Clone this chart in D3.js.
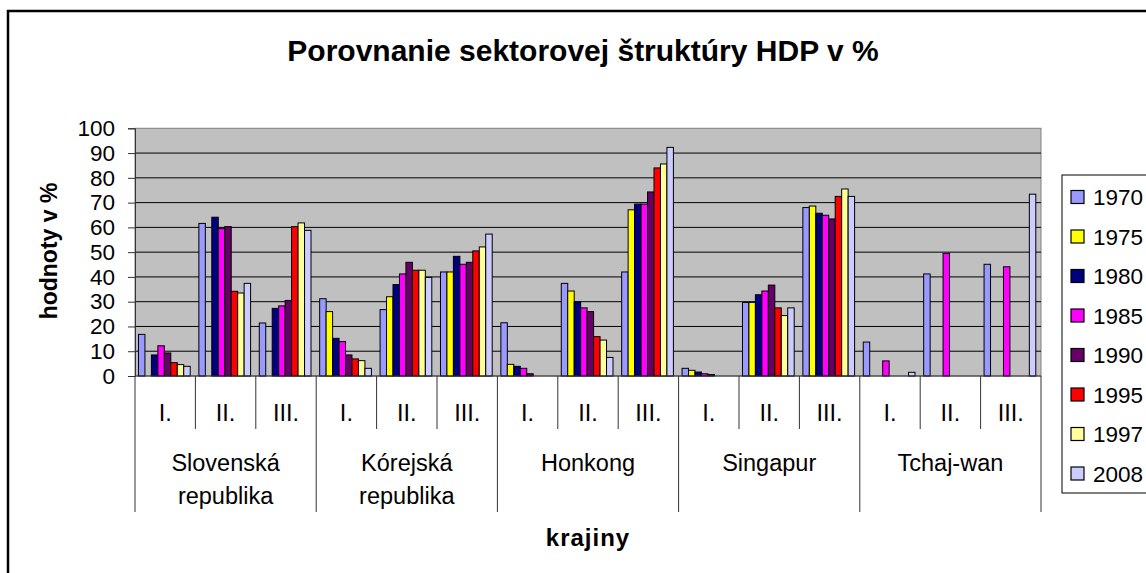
<!DOCTYPE html>
<html>
<head>
<meta charset="utf-8">
<script src="https://cdn.jsdelivr.net/npm/d3@7"></script>
<style>
  body { margin: 0; background: #fff; }
  svg { display: block; font-family: "Liberation Sans", Arial, sans-serif; }
</style>
</head>
<body>
<div id="chart"></div>
<script>
const countries = [["Slovenská", "republika"], ["Kórejská", "republika"], ["Honkong"], ["Singapur"], ["Tchaj-wan"]];
const sectors = ["I.", "II.", "III."];
const years = ["1970", "1975", "1980", "1985", "1990", "1995", "1997", "2008"];
const colors = ["#9999FF", "#FFFF00", "#000080", "#FF00FF", "#660066", "#FF0000", "#FFFF99", "#CCCCFF"];
const yTicks = [0, 10, 20, 30, 40, 50, 60, 70, 80, 90, 100];

// one row per country+sector, values in year order (null = no bar)
const slovakia = [
  [16.8, null, 8.5, 12.2, 9.3, 5.4, 4.6, 3.9],
  [61.6, null, 64.1, 59.5, 60.3, 34.2, 33.5, 37.4],
  [21.4, null, 27.3, 28.3, 30.5, 60.3, 61.8, 58.8]
];
const korea = [
  [31.2, 26.0, 15.2, 13.9, 8.5, 6.9, 6.2, 3.1],
  [26.8, 32.0, 36.9, 41.2, 45.9, 42.7, 42.7, 39.8],
  [42.0, 42.0, 48.3, 45.1, 45.9, 50.5, 52.1, 57.3]
];
const hongkong = [
  [21.5, 4.7, 3.9, 3.1, 0.9, null, null, null],
  [37.4, 34.3, 29.9, 27.5, 26.0, 15.9, 14.5, 7.5],
  [42.0, 67.1, 69.4, 69.4, 74.3, 84.0, 85.6, 92.3]
];
const singapore = [
  [3.1, 2.3, 1.6, 0.9, 0.6, null, null, null],
  [29.7, 29.7, 32.8, 34.3, 36.7, 27.5, 24.4, 27.5],
  [68.0, 68.6, 65.7, 64.9, 63.4, 72.5, 75.5, 72.5]
];
const taiwan = [
  [13.7, null, null, 6.1, null, null, null, 1.5],
  [41.2, null, null, 49.5, null, null, null, null],
  [45.1, null, null, 44.1, null, null, null, 73.4]
];
const values = [slovakia, korea, hongkong, singapore, taiwan];

const width = 1146;
const height = 573;
const plot = { left: 135, right: 1041, top: 128.3, bottom: 376 };
const font = 22.5;
const labelFont = 23.5;

const svg = d3.select("#chart").append("svg")
  .attr("width", width)
  .attr("height", height);

// outer chart border (cropped at right and bottom in the original)
svg.append("rect")
  .attr("x", 8).attr("y", 11)
  .attr("width", 1300).attr("height", 800)
  .attr("fill", "#fff")
  .attr("stroke", "#000")
  .attr("stroke-width", 2.5);

const keys = [];
countries.forEach((c, ci) => sectors.forEach((s, si) => keys.push({ ci, si, key: ci + "|" + si })));

const x = d3.scaleBand()
  .domain(keys.map(d => d.key))
  .range([plot.left, plot.right]);

const xIn = d3.scaleBand()
  .domain(years)
  .range([0, x.bandwidth()])
  .paddingOuter(0.67)
  .align(0.4);

const y = d3.scaleLinear()
  .domain([0, 100])
  .range([plot.bottom, plot.top]);

// plot background
svg.append("rect")
  .attr("x", plot.left).attr("y", plot.top)
  .attr("width", plot.right - plot.left)
  .attr("height", plot.bottom - plot.top)
  .attr("fill", "#C0C0C0")
  .attr("stroke", "#808080")
  .attr("stroke-width", 1);

// gridlines
svg.append("g")
  .selectAll("line")
  .data(yTicks.slice(1, -1))
  .join("line")
  .attr("x1", plot.left).attr("x2", plot.right)
  .attr("y1", d => y(d)).attr("y2", d => y(d))
  .attr("stroke", "#000")
  .attr("stroke-width", 1);

// y axis
const yAxis = svg.append("g")
  .attr("transform", `translate(${plot.left},0)`)
  .call(d3.axisLeft(y).tickValues(yTicks).tickSize(7).tickPadding(13));
yAxis.select(".domain").attr("stroke", "#333");
yAxis.selectAll(".tick line").attr("stroke", "#333");
yAxis.selectAll("text")
  .attr("font-size", font)
  .attr("font-family", "Liberation Sans, Arial, sans-serif")
  .attr("fill", "#000");

// bars
const rows = [];
keys.forEach(k => {
  values[k.ci][k.si].forEach((v, yi) => {
    if (v != null) rows.push({ key: k.key, year: years[yi], color: colors[yi], v });
  });
});

svg.append("g")
  .selectAll("rect")
  .data(rows)
  .join("rect")
  .attr("x", d => x(d.key) + xIn(d.year))
  .attr("y", d => y(d.v))
  .attr("width", xIn.bandwidth())
  .attr("height", d => y(0) - y(d.v))
  .attr("fill", d => d.color)
  .attr("stroke", "#000")
  .attr("stroke-width", 1);

// x axis baseline
svg.append("line")
  .attr("x1", plot.left).attr("x2", plot.right)
  .attr("y1", y(0)).attr("y2", y(0))
  .attr("stroke", "#333")
  .attr("stroke-width", 1.2);

// x axis: dividers between sectors and countries
const divs = keys.map((k, i) => ({ x: x(k.key), major: k.si === 0 }));
divs.push({ x: plot.right, major: true });
svg.append("g")
  .selectAll("line")
  .data(divs)
  .join("line")
  .attr("x1", d => d.x).attr("x2", d => d.x)
  .attr("y1", y(0))
  .attr("y2", d => d.major ? 512 : 429)
  .attr("stroke", "#333")
  .attr("stroke-width", 1);

// sector labels
svg.append("g")
  .selectAll("text")
  .data(keys)
  .join("text")
  .attr("x", d => x(d.key) + x.bandwidth() / 2)
  .attr("y", 421)
  .attr("text-anchor", "middle")
  .attr("font-size", labelFont)
  .text(d => sectors[d.si]);

// country labels
const step = x.step() * sectors.length;
const cl = svg.append("g")
  .selectAll("text")
  .data(countries)
  .join("text")
  .attr("x", (d, i) => plot.left + step * i + step / 2)
  .attr("y", 471)
  .attr("text-anchor", "middle")
  .attr("font-size", labelFont);
cl.selectAll("tspan")
  .data(d => d)
  .join("tspan")
  .attr("x", function () { return d3.select(this.parentNode).attr("x"); })
  .attr("dy", (d, i) => i === 0 ? 0 : 33)
  .text(d => d);

// titles
svg.append("text")
  .attr("x", 583).attr("y", 61)
  .attr("text-anchor", "middle")
  .attr("font-size", 30)
  .attr("font-weight", "bold")
  .text("Porovnanie sektorovej štruktúry HDP v %");

svg.append("text")
  .attr("x", 588).attr("y", 546)
  .attr("text-anchor", "middle")
  .attr("font-size", 24)
  .attr("font-weight", "bold")
  .attr("letter-spacing", 1)
  .text("krajiny");

svg.append("text")
  .attr("transform", "translate(57,251) rotate(-90)")
  .attr("text-anchor", "middle")
  .attr("font-size", 23)
  .attr("font-weight", "bold")
  .text("hodnoty v %");

// legend
const legend = svg.append("g");
legend.append("rect")
  .attr("x", 1062).attr("y", 175)
  .attr("width", 120).attr("height", 318)
  .attr("fill", "#fff")
  .attr("stroke", "#000")
  .attr("stroke-width", 1);

const li = legend.selectAll("g.item")
  .data(years)
  .join("g")
  .attr("class", "item")
  .attr("transform", (d, i) => `translate(1071,${197 + i * 39.5})`);
li.append("rect")
  .attr("x", 0).attr("y", -6.5)
  .attr("width", 13).attr("height", 13)
  .attr("fill", (d, i) => colors[i])
  .attr("stroke", "#000")
  .attr("stroke-width", 1.2);
li.append("text")
  .attr("x", 22).attr("y", 8)
  .attr("font-size", font)
  .text(d => d);
</script>
</body>
</html>
